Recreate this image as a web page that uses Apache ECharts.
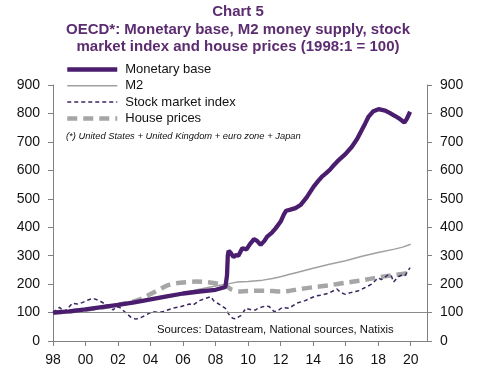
<!DOCTYPE html>
<html><head><meta charset="utf-8">
<script src="https://cdn.jsdelivr.net/npm/echarts@6/dist/echarts.min.js"></script>
<style>html,body{margin:0;padding:0;background:#fff}#c{width:482px;height:384px}</style>
</head><body><div id="c"></div>
<script>
const seriesNames = ['Monetary base', 'M2', 'Stock market index', 'House prices'];
const xTickValues = [1998,2000,2002,2004,2006,2008,2010,2012,2014,2016,2018,2020];
const xTickLabels = ['98','00','02','04','06','08','10','12','14','16','18','20'];
const yTickLabels = ['0','100','200','300','400','500','600','700','800','900'];

const mbYears = [1998,1999,2000,2001,2002,2003,2004,2005,2006,2007,2008,2008.6,2008.7,2008.75,2008.8,2008.93,2009.1,2009.24,2009.4,2009.64,2009.9,2010.1,2010.36,2010.55,2010.77,2011.0,2011.17,2011.45,2011.69,2012.0,2012.2,2012.34,2012.6,2012.91,2013.22,2013.6,2014.03,2014.3,2014.54,2014.8,2015.06,2015.3,2015.57,2015.98,2016.38,2016.7,2016.99,2017.2,2017.41,2017.7,2018.02,2018.43,2018.7,2019.04,2019.3,2019.61,2019.75,2019.96];
const mbValues = [100,104,111,119,127,136,146,157,167,174,180,190,230,300,317,310,295,302,300,326,322,340,358,352,338,352,367,380,396,420,445,458,462,467,478,505,543,562,578,590,604,620,636,657,683,710,742,765,789,808,815,810,802,791,782,768,780,806];

const m2Years = [1998,1999,2000,2001,2002,2003,2004,2005,2006,2007,2008,2008.7,2009.3,2010,2010.9,2011.5,2012,2012.5,2013,2014,2015,2016,2017,2018,2019,2019.5,2020];
const m2Values = [100,106,113,121,129,138,148,158,170,182,193,200,207,209,214,220,226,234,241,256,270,282,298,311,323,330,340];

const smYears = [1998,1998.4,1998.7,1999.0,1999.2,1999.5,1999.8,2000.2,2000.45,2000.7,2000.96,2001.3,2001.7,2001.9,2002.1,2002.4,2002.8,2003.1,2003.4,2003.7,2004.1,2004.5,2004.8,2005.35,2005.8,2006.4,2006.6,2007.0,2007.4,2007.7,2007.9,2008.2,2008.6,2008.8,2009.05,2009.2,2009.6,2009.85,2010.25,2010.46,2010.6,2011.07,2011.3,2011.6,2011.8,2012.1,2012.5,2013.0,2013.5,2014.14,2014.55,2014.95,2015.46,2015.7,2015.98,2016.3,2016.8,2017.2,2017.6,2018.0,2018.2,2018.6,2018.8,2018.94,2019.24,2019.45,2019.65,2019.96];
const smValues = [100,118,103,120,133,130,135,145,150,145,138,127,109,121,118,103,83,77,82,91,103,100,104,115,120,130,126,142,150,156,140,130,115,95,80,78,91,115,109,109,115,123,121,103,106,118,115,133,142,158,162,168,183,170,164,170,177,188,200,222,216,232,230,207,226,232,230,258];

const hpYears = [1998,1999,2000,2001,2002,2003,2003.5,2004,2004.5,2005,2005.5,2006,2006.8,2007.5,2008,2008.6,2009,2009.4,2010,2011,2012,2012.5,2013,2014,2015,2016,2017,2018,2019,2020];
const hpValues = [100,104,110,118,127,140,150,165,180,195,202,206,209,207,203,196,180,174,176,177,174,176,181,189,196,205,213,224,232,240];

const zip = (xs, ys) => xs.map((x, i) => [x, ys[i]]);

const chart = echarts.init(document.getElementById('c'), null, {renderer: 'canvas'});
const font = 'Liberation Sans, Arial, sans-serif';
const axisGray = '#808080';
const yAxisCommon = {
  type: 'value', min: 0, max: 900, interval: 100,
  axisLine: {show: true, lineStyle: {color: axisGray, width: 1}},
  axisTick: {show: true, inside: false, length: 5, lineStyle: {color: axisGray}},
  splitLine: {show: false},
  axisLabel: {color: '#111', fontSize: 14, fontFamily: font, margin: 13,
    formatter: v => yTickLabels[Math.round(v / 100)] ?? ''}
};
chart.setOption({
  animation: false,
  backgroundColor: '#fff',
  grid: {left: 53, right: 55, top: 85, bottom: 43, containLabel: false},
  xAxis: {
    type: 'value', min: 1998, max: 2021, interval: 2,
    axisLine: {show: true, onZero: false, lineStyle: {color: axisGray, width: 1}},
    axisTick: {show: true, length: 5, lineStyle: {color: axisGray}, customValues: xTickValues},
    splitLine: {show: false},
    axisLabel: {color: '#111', fontSize: 14, fontFamily: font, margin: 12,
      customValues: xTickValues,
      formatter: v => { const i = xTickValues.indexOf(Math.round(v)); return i >= 0 ? xTickLabels[i] : ''; }}
  },
  yAxis: [Object.assign({position: 'left'}, yAxisCommon), Object.assign({position: 'right'}, yAxisCommon)],
  legend: {
    orient: 'vertical', left: 60, top: 58, itemWidth: 50, itemHeight: 14, itemGap: 3.3,
    textStyle: {fontSize: 13, fontFamily: font, color: '#111', padding: [0, 0, 0, 3]},
    itemStyle: {opacity: 0},
    lineStyle: {width: 'inherit'},
    data: seriesNames
  },
  graphic: [
    {type: 'text', x: 238, y: 12, style: {text: 'Chart 5', font: 'bold 15px Liberation Sans, Arial, sans-serif', fill: '#5b2c6f', align: 'center', verticalAlign: 'middle'}},
    {type: 'text', x: 238, y: 30, style: {text: 'OECD*: Monetary base, M2 money supply, stock', font: 'bold 15px Liberation Sans, Arial, sans-serif', fill: '#5b2c6f', align: 'center', verticalAlign: 'middle'}},
    {type: 'text', x: 238, y: 47, style: {text: 'market index and house prices (1998:1 = 100)', font: 'bold 15px Liberation Sans, Arial, sans-serif', fill: '#5b2c6f', align: 'center', verticalAlign: 'middle'}},
    {type: 'text', x: 66, y: 136, style: {text: '(*) United States + United Kingdom + euro zone + Japan', font: 'italic 9.4px Liberation Sans, Arial, sans-serif', fill: '#111', align: 'left', verticalAlign: 'middle'}},
    {type: 'text', x: 157, y: 330, style: {text: 'Sources: Datastream, National sources, Natixis', font: '11.3px Liberation Sans, Arial, sans-serif', fill: '#111', align: 'left', verticalAlign: 'middle'}}
  ],
  series: [
    {name: seriesNames[3], type: 'line', data: zip(hpYears, hpValues), showSymbol: false, symbol: 'none', z: 2,
      lineStyle: {color: '#a6a6a6', width: 4.5, type: [10, 6]}, itemStyle: {color: '#a6a6a6'}, smooth: 0.2},
    {name: seriesNames[1], type: 'line', data: zip(m2Years, m2Values), showSymbol: false, symbol: 'none', z: 3,
      lineStyle: {color: '#a0a0a0', width: 1.5}, itemStyle: {color: '#a0a0a0'},
      markLine: {silent: true, symbol: 'none', label: {show: false}, lineStyle: {color: '#8a8a8a', width: 1, type: 'solid'}, data: [{yAxis: 100}]}},
    {name: seriesNames[2], type: 'line', data: zip(smYears, smValues), showSymbol: false, symbol: 'none', z: 4,
      lineStyle: {color: '#3b2760', width: 1.5, type: [4, 3]}, itemStyle: {color: '#3b2760'}},
    {name: seriesNames[0], type: 'line', data: zip(mbYears, mbValues), showSymbol: false, symbol: 'none', z: 5,
      lineStyle: {color: '#4b1d6e', width: 4.3}, itemStyle: {color: '#4b1d6e'}}
  ]
});
</script></body></html>
